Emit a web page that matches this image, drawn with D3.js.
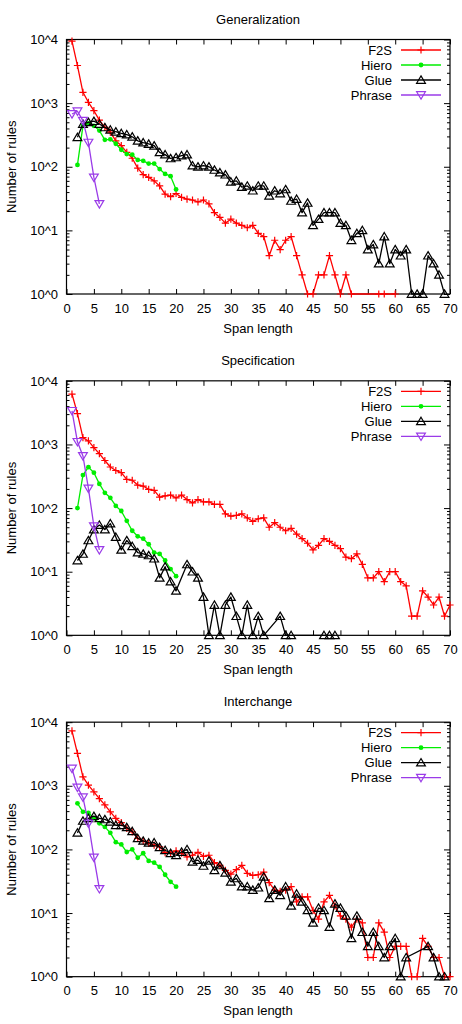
<!DOCTYPE html>
<html>
<head>
<meta charset="utf-8">
<script src="https://cdn.jsdelivr.net/npm/d3@7"></script>
<style>
  body { margin: 0; background: #fff; }
  text { font-family: "Liberation Sans", Arial, sans-serif; fill: #000; }
</style>
</head>
<body>
<svg id="chart"></svg>
<script>
// ---- data (index 0 = span length 1, null = no rules) ----
const titles = ["Generalization", "Specification", "Interchange"];
const seriesNames = ["F2S", "Hiero", "Glue", "Phrase"];
const xTicks = [0, 5, 10, 15, 20, 25, 30, 35, 40, 45, 50, 55, 60, 65, 70];
const yTicks = [1, 10, 100, 1000, 10000];
const yTickLabels = ["10^0", "10^1", "10^2", "10^3", "10^4"];

const genF2S = [9400, 3900, 1480, 1030, 760, 540, 415, 350, 255, 215,
  168, 136, 95, 75, 68, 60, 50, 37, 34, 38,
  33, 31, 30, 28, 30, 26, 19, 16, 13, 15,
  13, 12, 11, 12, 9, 8, 4, 7, 5, 7,
  8, 4, 2, 1, 1, 2, 2, 4, 2, 1,
  2, 1, null, null, null, null, 1, 1, null, 1];
const genHiero = [null, 107, 440, 480, 440, 370, 265, 270, 230, 185,
  158, 155, 128, 124, 112, 112, 92, 77, 71, 44];
const genGlue = [null, 290, 470, 500, 520, 470, 415, 380, 355, 335,
  320, 296, 256, 240, 228, 214, 168, 155, 135, 140,
  150, 155, 104, 100, 104, 100, 89, 81, 75, 58,
  60, 48, 50, 42, 50, 50, 35, 42, 38, 44,
  29, 31, 19, 27, 12, 15, 19, 19, 19, 13,
  12, 7, 9, 10, 5, 6, 3, 8, 3, 5,
  4, 5, 1, 1, 1, 4, 3, 2, 1];
const genPhrase = [675, 745, 530, 240, 68, 26];

const speF2S = [6200, 3050, 1280, 1135, 890, 716, 560, 442, 390, 360,
  283, 274, 230, 222, 197, 190, 149, 155, 160, 145,
  160, 136, 121, 136, 125, 125, 114, 114, 81, 75,
  77, 81, 70, 62, 68, 70, 50, 59, 50, 44,
  48, 39, 33, 28, 22, 26, 33, 30, 26, 23,
  17, 16, 19, 13, 8, 8, 10, 7, 10, 10,
  7, 6, 2, 2, 5, 4, 3, 4, 2, 3];
const speHiero = [null, 100, 330, 440, 360, 240, 174, 145, 108, 90,
  63, 44, 36, 33, 27, 20, 19, 15, 11, 8.5];
const speGlue = [null, 15, 19, 31, 46, 54, 46, 57, 35, 22,
  31, 25, 20, 19, 18, 16, 8, 12, 7, 5,
  null, 13, 10, 8, 4, 1, 3, 1, 3, 4,
  2, 1, 3, 1, 2, 1, null, null, 2, 1,
  1, null, null, null, null, null, 1, 1, 1];
const spePhrase = [3380, 1100, 660, 204, 52, 22];

const intF2S = [7300, 3230, 1380, 1025, 800, 630, 500, 390, 307, 263,
  214, 189, 149, 135, 124, 117, 110, 89, 88, 95,
  87, 76, 81, 90, 78, 81, 62, 56, 47, 41,
  48, 56, 42, 39, 40, 44, 30, 23, 22, 23,
  26, 15, 18, 18, 11, 8, 15, 19, 13, 9,
  8, 6, 8, 7, 2, 2, 7, 5, 2, 3,
  3, 3, 1, 1, 4, 3, 2, 2, 1, 1];
const intHiero = [null, 530, 390, 376, 308, 257, 226, 182, 130, 120,
  91, 100, 74, 87, 66, 62, 53, 40, 31, 26];
const intGlue = [null, 182, 280, 308, 333, 308, 296, 272, 240, 240,
  222, 192, 149, 136, 127, 128, 108, 97, 87, 81,
  91, 100, 64, 68, 55, 66, 47, 56, 43, 31,
  35, 26, 26, 23, 25, 37, 17, 23, 19, 26,
  13, 20, 15, 11, 7, 12, 11, 6, 14, 12,
  9, 4, 9, 5, 3, 5, 3, 2, 3, 4,
  1, 2, null, null, null, 3, 2, 1, 1];
const intPhrase = [1870, 945, 660, 257, 75, 24];

const panelData = [
  [genF2S, genHiero, genGlue, genPhrase],
  [speF2S, speHiero, speGlue, spePhrase],
  [intF2S, intHiero, intGlue, intPhrase]
];

// ---- layout ----
const width = 462, height = 1024;
const panelH = height / 3;
const plotLeft = 66.5, plotRight = 450, plotTop = 39.5, plotBottom = 294;
const colors = ["#ff0000", "#00ee00", "#000000", "#9a3be8"];

const svg = d3.select("#chart").attr("width", width).attr("height", height);

const x = d3.scaleLinear().domain([0, 70]).range([plotLeft, plotRight]);
const y = d3.scaleLog().domain([1, 10000]).range([plotBottom, plotTop]);

const minorTicks = [];
[1, 10, 100, 1000].forEach(d => { for (let m = 2; m <= 9; m++) minorTicks.push(d * m); });

// marker drawers
function drawMarker(g, type, color) {
  if (type === 0) {
    g.append("path").attr("d", "M-3.6,0H3.6M0,-3.6V3.6")
      .attr("stroke", color).attr("stroke-width", 1.2).attr("fill", "none");
  } else if (type === 1) {
    g.append("circle").attr("r", 2.4).attr("fill", color);
  } else if (type === 2) {
    g.append("path").attr("d", "M0,-4.1L4.4,3.3L-4.4,3.3Z")
      .attr("stroke", color).attr("stroke-width", 1.2).attr("fill", "none");
  } else {
    g.append("path").attr("d", "M0,4.1L4.4,-3.3L-4.4,-3.3Z")
      .attr("stroke", color).attr("stroke-width", 1.2).attr("fill", "none");
  }
}

function drawPanel(p) {
  const g = svg.append("g").attr("transform", `translate(0, ${p * panelH})`);

  // title + axis labels
  g.append("text").attr("x", 258).attr("y", 19).attr("dy", "0.35em")
    .attr("text-anchor", "middle").attr("font-size", "13px").text(titles[p]);
  g.append("text").attr("x", 258).attr("y", 328).attr("dy", "0.35em")
    .attr("text-anchor", "middle").attr("font-size", "13px").text("Span length");
  g.append("text")
    .attr("transform", `translate(11, ${(plotTop + plotBottom) / 2}) rotate(-90)`)
    .attr("dy", "0.35em").attr("text-anchor", "middle").attr("font-size", "13px")
    .text("Number of rules");

  // axes (ticks pointing inward, mirrored)
  g.append("g").attr("transform", `translate(0, ${plotBottom})`)
    .call(d3.axisBottom(x).tickValues(xTicks).tickSize(-5).tickPadding(9.5));
  g.append("g").attr("transform", `translate(0, ${plotTop})`)
    .call(d3.axisTop(x).tickValues(xTicks).tickSize(-5).tickFormat(""));
  g.append("g").attr("transform", `translate(${plotLeft}, 0)`)
    .call(d3.axisLeft(y).tickValues(yTicks).tickSize(-6).tickPadding(8.5)
      .tickFormat((d, i) => yTickLabels[i]));
  g.append("g").attr("transform", `translate(${plotLeft}, 0)`)
    .call(d3.axisLeft(y).tickValues(minorTicks).tickSize(-3).tickFormat(""));
  g.append("g").attr("transform", `translate(${plotRight}, 0)`)
    .call(d3.axisRight(y).tickValues(yTicks).tickSize(-6).tickFormat(""));
  g.append("g").attr("transform", `translate(${plotRight}, 0)`)
    .call(d3.axisRight(y).tickValues(minorTicks).tickSize(-3).tickFormat(""));

  g.selectAll(".domain").remove();
  g.selectAll(".tick line").attr("stroke", "#000").attr("stroke-width", 1);
  g.selectAll(".tick text").attr("font-size", "13px").attr("font-family", "Liberation Sans, Arial, sans-serif").attr("fill", "#000");

  g.append("rect").attr("x", plotLeft).attr("y", plotTop)
    .attr("width", plotRight - plotLeft).attr("height", plotBottom - plotTop)
    .attr("fill", "none").attr("stroke", "#000").attr("stroke-width", 1.2);

  // series
  const line = d3.line().x(d => x(d[0])).y(d => y(d[1]));
  panelData[p].forEach((vals, s) => {
    const pts = vals.map((v, i) => [i + 1, v]).filter(d => d[1] != null);
    g.append("path").datum(pts).attr("d", line)
      .attr("fill", "none").attr("stroke", colors[s]).attr("stroke-width", 1.3)
      .attr("stroke-linejoin", "round");
    pts.forEach(d => {
      const m = g.append("g").attr("transform", `translate(${x(d[0])}, ${y(d[1])})`);
      drawMarker(m, s, colors[s]);
    });
  });

  // legend
  seriesNames.forEach((name, s) => {
    const ly = 50 + s * 15;
    g.append("text").attr("x", 392).attr("y", ly).attr("dy", "0.35em")
      .attr("text-anchor", "end").attr("font-size", "13px").text(name);
    g.append("line").attr("x1", 401).attr("x2", 441).attr("y1", ly).attr("y2", ly)
      .attr("stroke", colors[s]).attr("stroke-width", 1.3);
    const m = g.append("g").attr("transform", `translate(421, ${ly})`);
    drawMarker(m, s, colors[s]);
  });
}

[0, 1, 2].forEach(drawPanel);
</script>
</body>
</html>
